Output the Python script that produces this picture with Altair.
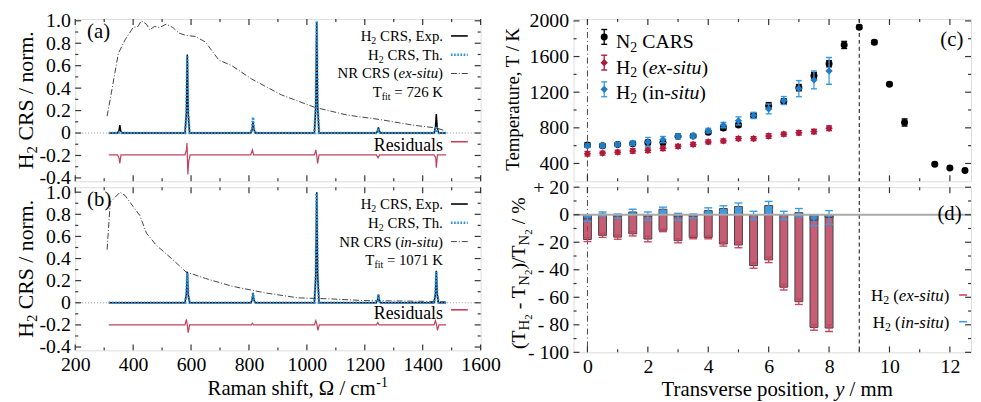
import altair as alt
import pandas as pd

FONT = "Liberation Serif"

# ---------------- panel (a): ex-situ NR, T_fit = 726 K ----------------
shift_a = [316, 346, 351, 354, 357, 362, 579, 584, 587, 590, 595, 806, 811, 814, 817, 822,
           1026, 1031, 1034, 1037, 1042, 1239, 1244, 1247, 1250, 1255, 1439, 1444, 1447, 1450, 1455, 1481]
exp_a = [0, 0, 0.02, 0.07, 0.02, 0, 0, 0.18, 0.70, 0.18, 0, 0, 0.03, 0.10, 0.03, 0,
         0, 0.25, 0.99, 0.25, 0, 0, 0.015, 0.05, 0.015, 0, 0, 0.05, 0.17, 0.05, 0, 0]
th_a = [0, 0, 0.003, 0.01, 0.003, 0, 0, 0.18, 0.69, 0.18, 0, 0, 0.04, 0.14, 0.04, 0,
        0, 0.26, 1.0, 0.26, 0, 0, 0.012, 0.04, 0.012, 0, 0, 0.02, 0.06, 0.02, 0, 0]
res_shift_a = [316, 346, 351, 354, 358, 579, 584, 586, 589, 592, 597, 806, 812, 816, 822,
               1026, 1031, 1034, 1037, 1042, 1240, 1246, 1251, 1439, 1445, 1447, 1451, 1481]
res_a = [-0.195, -0.195, -0.22, -0.27, -0.195, -0.195, -0.15, -0.09, -0.37, -0.25, -0.195,
         -0.195, -0.15, -0.195, -0.195, -0.195, -0.15, -0.2, -0.27, -0.195, -0.195, -0.22,
         -0.195, -0.195, -0.22, -0.31, -0.195, -0.195]
nr_shift_a = [310, 327, 349, 372, 400, 417, 428, 446, 457, 474, 491, 514, 537, 559, 582,
              616, 650, 696, 741, 810, 912, 1026, 1139, 1253, 1367, 1447, 1478]
nr_a = [0.15, 0.39, 0.71, 0.83, 0.94, 0.95, 1.0, 0.97, 0.92, 0.95, 0.94, 0.97, 0.94, 0.89,
        0.87, 0.86, 0.81, 0.65, 0.60, 0.48, 0.34, 0.23, 0.16, 0.12, 0.07, 0.045, 0.02]

# ---------------- panel (b): in-situ NR, T_fit = 1071 K ----------------
shift_b = [316, 579, 584, 587, 590, 595, 806, 811, 814, 817, 822, 1026, 1031, 1034, 1037, 1042,
           1239, 1244, 1247, 1250, 1255, 1439, 1444, 1447, 1450, 1455, 1481]
exp_b = [0, 0, 0.08, 0.28, 0.08, 0, 0, 0.025, 0.09, 0.025, 0, 0, 0.26, 1.0, 0.26, 0,
         0, 0.02, 0.075, 0.02, 0, 0, 0.08, 0.29, 0.08, 0, 0]
th_b = [0, 0, 0.075, 0.27, 0.075, 0, 0, 0.025, 0.085, 0.025, 0, 0, 0.26, 0.99, 0.26, 0,
        0, 0.02, 0.07, 0.02, 0, 0, 0.075, 0.28, 0.075, 0, 0]
res_shift_b = [316, 579, 584, 587, 590, 595, 808, 812, 816, 1026, 1031, 1035, 1038, 1043,
               1240, 1245, 1250, 1439, 1444, 1448, 1451, 1456, 1481]
res_b = [-0.2, -0.2, -0.15, -0.2, -0.27, -0.2, -0.2, -0.185, -0.2, -0.2, -0.16, -0.2, -0.25,
         -0.2, -0.2, -0.18, -0.2, -0.2, -0.16, -0.2, -0.25, -0.2, -0.2]
nr_shift_b = [310, 321, 338, 355, 372, 400, 423, 446, 480, 537, 582, 650, 741, 855, 969,
              1083, 1197, 1367, 1478]
nr_b = [0.48, 0.91, 0.955, 1.0, 0.97, 0.87, 0.79, 0.63, 0.52, 0.39, 0.28, 0.22, 0.15, 0.09,
        0.045, 0.035, 0.02, 0.015, 0.01]

# ---------------- panel (c): temperatures ----------------
pos_n2 = [0, 0.5, 1, 1.5, 2, 2.5, 3, 3.5, 4, 4.5, 5, 5.5, 6, 6.5, 7, 7.5, 8,
          8.5, 9, 9.5, 10, 10.5, 11.5, 12, 12.5]
t_n2 = [606, 599, 614, 621, 635, 635, 704, 708, 751, 798, 831, 939, 1048, 1095, 1251, 1385, 1519,
        1730, 1930, 1760, 1290, 860, 390, 350, 320]
t_n2_err = [25, 20, 20, 20, 25, 25, 25, 20, 20, 25, 20, 30, 35, 30, 35, 35, 35,
            40, 20, 20, 15, 40, 15, 15, 12]
pos_h2 = [0, 0.5, 1, 1.5, 2, 2.5, 3, 3.5, 4, 4.5, 5, 5.5, 6, 6.5, 7, 7.5, 8]
t_ex = [509, 516, 527, 541, 548, 570, 592, 614, 642, 653, 679, 679, 708, 729, 744, 758, 795]
t_ex_err = [25, 22, 22, 25, 25, 25, 22, 22, 22, 22, 22, 22, 25, 22, 25, 25, 25]
t_in = [599, 599, 614, 628, 642, 668, 704, 708, 769, 831, 878, 939, 1012, 1106, 1240, 1338, 1439]
t_in_err = [20, 20, 20, 25, 50, 35, 25, 25, 25, 30, 45, 35, 55, 45, 90, 100, 150]

# ---------------- panel (d): relative deviation ----------------
dev_ex = [-18, -15, -16.3, -13.9, -17.7, -11.3, -18.9, -16.5, -16.5, -21.3, -22, -36.9,
          -32.8, -52.7, -63.2, -81.9, -82.4]
dev_ex_err = [1.5, 1.5, 1.5, 1.5, 2, 1, 1.5, 1, 1, 1.5, 2, 2, 2, 2, 2, 2, 2.5]
dev_in = [-3, 0.5, -1, 2, -1, 4, -1.5, -1, 3, 4.5, 6, -0.5, 6.7, -0.5, 1.5, -4, -2]
dev_in_err = [2, 1.5, 1.5, 2, 3, 1.5, 2.5, 1.5, 2, 2, 2.5, 3, 3, 3, 3, 4, 5]

# ---------------- tick values ----------------
raman_major = [200, 400, 600, 800, 1000, 1200, 1400, 1600]
raman_minor = [300, 500, 700, 900, 1100, 1300, 1500]
crs_major = [-0.4, -0.2, 0, 0.2, 0.4, 0.6, 0.8, 1.0]
crs_minor = [-0.3, -0.1, 0.1, 0.3, 0.5, 0.7, 0.9]
pos_major = [0, 2, 4, 6, 8, 10, 12]
pos_minor = [1, 3, 5, 7, 9, 11]
temp_major = [400, 800, 1200, 1600, 2000]
temp_minor = [600, 1000, 1400, 1800]
dev_major = [-100, -80, -60, -40, -20, 0, 20]
dev_minor = [-90, -70, -50, -30, -10, 10]

ONE = alt.Data(values=[{"k": 0}])

UP = {" ": .25, "(": .333, ")": .333, ",": .25, ".": .25, "/": .278, "-": .333,
      "=": .564, "%": .833, "Ω": .768, "A": .722, "C": .667, "E": .611, "H": .722,
      "K": .722, "N": .722, "R": .667, "S": .556, "T": .611, "a": .444, "c": .444,
      "d": .5, "e": .444, "f": .333, "h": .5, "i": .278, "l": .278, "m": .778,
      "n": .5, "o": .5, "p": .5, "r": .333, "s": .389, "t": .278, "u": .5,
      "v": .5, "x": .5, "y": .5}
IT = dict(UP, x=.444, y=.444)


def twidth(s, size, it):
    tbl = IT if it else UP
    return size * sum(tbl.get(c, .5) for c in s)


def rich(segs, x, y, align="left", angle=0, color="black"):
    total = sum(twidth(t, s, it) for t, s, it, sh in segs)
    pos = {"left": 0.0, "center": -total / 2, "right": -total}[align]
    out = []
    for t, s, it, sh in segs:
        lead = len(t) - len(t.lstrip(" "))
        shown = t.strip(" ")
        start = pos + lead * 0.25 * s
        if angle == 0:
            px, py = x + start, y + sh
        else:
            px, py = x + sh, y - start
        kw = dict(text=shown, font=FONT, fontSize=s, align="left", baseline="alphabetic",
                  color=color, fontStyle="italic" if it else "normal")
        if angle:
            kw["angle"] = angle
        if shown:
            out.append(alt.Chart(ONE).mark_text(**kw).encode(x=alt.value(px), y=alt.value(py)))
        pos += twidth(t, s, it)
    return out


def seg(x0, x1, y, color, width=1.5, dash=None):
    kw = dict(color=color, strokeWidth=width)
    if dash:
        kw["strokeDash"] = dash
    return alt.Chart(ONE).mark_rule(**kw).encode(x=alt.value(x0), x2=alt.value(x1), y=alt.value(y))


def inward(values, ch, scale, ax, W, H, length):
    df = pd.DataFrame({"v": values})
    base = alt.Chart(df).mark_rule(color="#333", strokeWidth=1.2)
    if ch == "x":
        e = lambda a, b: base.encode(x=alt.X("v:Q", scale=scale, axis=ax), y=alt.value(a), y2=alt.value(b))
        return [e(H, H - length), e(0, length)]
    e = lambda a, b: base.encode(y=alt.Y("v:Q", scale=scale, axis=ax), x=alt.value(a), x2=alt.value(b))
    return [e(0, length), e(W, W - length)]


AXCOMMON = dict(title=None, ticks=False, domain=False, grid=False, labelFlush=False,
                labelFont=FONT, labelFontSize=20, labelColor="black")

xs_raman = alt.Scale(domain=[200, 1600], nice=False, zero=False, padding=0)
ys_crs_a = alt.Scale(domain=[-0.43, 1.015], nice=False, zero=False, padding=0)
ys_crs_b = alt.Scale(domain=[-0.43, 1.045], nice=False, zero=False, padding=0)
xs_pos = alt.Scale(domain=[-0.46, 12.7], nice=False, zero=False, padding=0)
ys_T = alt.Scale(domain=[200, 2020], nice=False, zero=False, padding=0)
ys_dev = alt.Scale(domain=[-100, 20], nice=False, zero=False, padding=0)

RED = "#b0183c"
BLUE = "#1f7cc8"
BLUE_L = "#3a9be2"
TH_BLUE = "#2a8fdc"
RES_RED = "#c4405c"


def spectrum_panel(letter, shift, exp, th, res_shift, res, nr_shift, nr, situ, tfit, ys_crs, W, H, xlabels):
    if xlabels:
        xaxis = alt.Axis(values=raman_major, format="d", labelPadding=4, **AXCOMMON)
    else:
        xaxis = alt.Axis(values=raman_major, labels=False, **AXCOMMON)
    yaxis = alt.Axis(values=crs_major, labelPadding=5,
                     labelExpr="datum.value == 0 ? '0' : (datum.value < 0 ? '-' : '') + format(abs(datum.value), '.1f')",
                     **AXCOMMON)
    X = lambda f: alt.X(f, type="quantitative", scale=xs_raman, axis=xaxis)
    Y = lambda f: alt.Y(f, type="quantitative", scale=ys_crs, axis=yaxis)
    d_line = pd.DataFrame({"x": shift, "exp": exp, "th": th})
    d_res = pd.DataFrame({"x": res_shift, "r": res})
    d_nr = pd.DataFrame({"x": nr_shift, "nr": nr})
    L = []
    L.append(alt.Chart(d_nr).mark_line(color="#444", strokeWidth=1, strokeDash=[6, 2, 1, 2])
             .encode(x=X("x"), y=Y("nr")))
    L.append(alt.Chart(ONE).mark_rule(color="#9a9a9a", strokeWidth=1, strokeDash=[1, 2])
             .encode(y=alt.YDatum(0, type="quantitative", scale=ys_crs, axis=yaxis)))
    L.append(alt.Chart(d_line).mark_line(color="black", strokeWidth=1.5).encode(x=X("x"), y=Y("exp")))
    L.append(alt.Chart(d_line).mark_line(color=TH_BLUE, strokeWidth=2.6, strokeDash=[1.6, 1.6])
             .encode(x=X("x"), y=Y("th")))
    L.append(alt.Chart(d_res).mark_line(color=RES_RED, strokeWidth=1.2).encode(x=X("x"), y=Y("r")))
    L += inward(raman_major, "x", xs_raman, xaxis, W, H, 6) + inward(raman_minor, "x", xs_raman, xaxis, W, H, 3)
    L += inward(crs_major, "y", ys_crs, yaxis, W, H, 6) + inward(crs_minor, "y", ys_crs, yaxis, W, H, 3)
    # legend
    rx = 372
    L += rich([("H", 15, False, 0), ("2", 10, False, 3), (" CRS, Exp.", 15, False, 0)], rx, 22, "right")
    L += rich([("H", 15, False, 0), ("2", 10, False, 3), (" CRS, Th.", 15, False, 0)], rx, 41, "right")
    L += rich([("NR CRS (", 15, False, 0), (situ, 15, True, 0), (")", 15, False, 0)], rx, 60, "right")
    L += rich([("T", 15, False, 0), ("fit", 10, False, 3), (" = %s K" % tfit, 15, False, 0)], rx, 79, "right")
    L += rich([("Residuals", 18, False, 0)], rx, 133, "right")
    L.append(seg(380, 397, 17, "black", 1.6))
    L.append(seg(380, 397, 36, TH_BLUE, 2.6, [1.6, 1.6]))
    L.append(seg(380, 397, 55, "#444", 1, [6, 2, 1, 2]))
    L.append(seg(380, 397, 124, RES_RED, 1.6))
    L += rich([("(%s)" % letter, 21, False, 0)], 12, 19)
    L += rich([("H", 22, False, 0), ("2", 15, False, 4), (" CRS / norm.", 22, False, 0)], -43, H / 2,
              "center", 270)
    if xlabels:
        L += rich([("Raman shift, Ω / cm", 21, False, 0), ("-1", 14, False, -8)], 225, H + 45, "center")
    return alt.layer(*L).properties(width=W, height=H)


def errpts(pos, val, err, xs, ys, xax, yax, color, ecolor, shape, size, cap):
    df = pd.DataFrame({"p": pos, "v": val, "err": err})
    df["lo"] = df["v"] - df["err"]
    df["hi"] = df["v"] + df["err"]
    X = alt.X("p:Q", scale=xs, axis=xax)
    out = [
        alt.Chart(df).mark_rule(color=ecolor, strokeWidth=1.3)
        .encode(x=X, y=alt.Y("lo:Q", scale=ys, axis=yax), y2="hi:Q"),
        alt.Chart(df).mark_tick(orient="horizontal", size=cap, thickness=1.4, color=ecolor, opacity=1)
        .encode(x=X, y=alt.Y("lo:Q", scale=ys, axis=yax)),
        alt.Chart(df).mark_tick(orient="horizontal", size=cap, thickness=1.4, color=ecolor, opacity=1)
        .encode(x=X, y=alt.Y("hi:Q", scale=ys, axis=yax)),
    ]
    if shape:
        out.append(alt.Chart(df).mark_point(shape=shape, filled=True, size=size, color=color, opacity=1)
                   .encode(x=X, y=alt.Y("v:Q", scale=ys, axis=yax)))
    return out


def legend_sym(x, y, color, ecolor, shape, size):
    return [
        alt.Chart(ONE).mark_rule(color=ecolor, strokeWidth=1.3).encode(x=alt.value(x), y=alt.value(y - 7.5), y2=alt.value(y + 7.5)),
        alt.Chart(ONE).mark_rule(color=ecolor, strokeWidth=1.4).encode(x=alt.value(x - 3), x2=alt.value(x + 3), y=alt.value(y - 7.5)),
        alt.Chart(ONE).mark_rule(color=ecolor, strokeWidth=1.4).encode(x=alt.value(x - 3), x2=alt.value(x + 3), y=alt.value(y + 7.5)),
        alt.Chart(ONE).mark_point(shape=shape, filled=True, size=size, color=color, opacity=1).encode(x=alt.value(x), y=alt.value(y)),
    ]


def refs(xax):
    return [
        alt.Chart(ONE).mark_rule(color="#444", strokeWidth=1, strokeDash=[6, 3, 1, 3])
        .encode(x=alt.XDatum(0, type="quantitative", scale=xs_pos, axis=xax)),
        alt.Chart(ONE).mark_rule(color="#222", strokeWidth=1.1, strokeDash=[4, 3])
        .encode(x=alt.XDatum(9, type="quantitative", scale=xs_pos, axis=xax)),
    ]


W_R = 402

# ---------- panel (c) ----------
H_C = 164
ax_c_x = alt.Axis(values=pos_major, labels=False, **AXCOMMON)
ax_c_y = alt.Axis(values=temp_major, format="d", labelPadding=5, **AXCOMMON)
c_layers = []
c_layers += refs(ax_c_x)
c_layers += errpts(pos_n2, t_n2, t_n2_err, xs_pos, ys_T, ax_c_x, ax_c_y, "black", "black", "circle", 50, 6)
c_layers += errpts(pos_h2, t_ex, t_ex_err, xs_pos, ys_T, ax_c_x, ax_c_y, RED, RED, "diamond", 55, 6)
c_layers += errpts(pos_h2, t_in, t_in_err, xs_pos, ys_T, ax_c_x, ax_c_y, BLUE, BLUE_L, "diamond", 55, 6)
c_layers += inward(pos_major, "x", xs_pos, ax_c_x, W_R, H_C, 6) + inward(pos_minor, "x", xs_pos, ax_c_x, W_R, H_C, 3)
c_layers += inward(temp_major, "y", ys_T, ax_c_y, W_R, H_C, 6) + inward(temp_minor, "y", ys_T, ax_c_y, W_R, H_C, 3)
c_layers += legend_sym(31, 18, "black", "black", "circle", 50)
c_layers += legend_sym(31, 44, RED, RED, "diamond", 55)
c_layers += legend_sym(31, 71, BLUE, BLUE_L, "diamond", 55)
c_layers += rich([("N", 20, False, 0), ("2", 14, False, 4), (" CARS", 20, False, 0)], 43, 29)
c_layers += rich([("H", 20, False, 0), ("2", 14, False, 4), (" (", 20, False, 0), ("ex-situ", 20, True, 0),
                  (")", 20, False, 0)], 43, 55)
c_layers += rich([("H", 20, False, 0), ("2", 14, False, 4), (" (in-", 20, False, 0), ("situ", 20, True, 0),
                  (")", 20, False, 0)], 43, 81)
c_layers += rich([("(c)", 21, False, 0)], 371, 27)
c_layers += rich([("Temperature, T / K", 19, False, 0)], -55, 80, "center", 270)
panel_c = alt.layer(*c_layers).properties(width=W_R, height=H_C)

# ---------- panel (d) ----------
H_D = 167
ax_d_x = alt.Axis(values=pos_major, format="d", labelPadding=4, **AXCOMMON)
ax_d_y = alt.Axis(values=dev_major, labelPadding=5,
                  labelExpr="datum.value > 0 ? '+ ' + datum.value : (datum.value < 0 ? '- ' + abs(datum.value) : '0')",
                  **AXCOMMON)
d_ex = pd.DataFrame({"p": pos_h2, "v": dev_ex})
d_in = pd.DataFrame({"p": pos_h2, "v": dev_in})
d_layers = []
d_layers += refs(ax_d_x)
d_layers.append(alt.Chart(d_ex).mark_bar(size=8, fill="#b83552", fillOpacity=0.8, stroke="#444", strokeWidth=1)
                .encode(x=alt.X("p:Q", scale=xs_pos, axis=ax_d_x), y=alt.Y("v:Q", scale=ys_dev, axis=ax_d_y),
                        y2=alt.datum(0)))
d_layers.append(alt.Chart(d_in).mark_bar(size=8, fill="#2a88d8", fillOpacity=0.85, stroke="#444", strokeWidth=1)
                .encode(x=alt.X("p:Q", scale=xs_pos, axis=ax_d_x), y=alt.Y("v:Q", scale=ys_dev, axis=ax_d_y),
                        y2=alt.datum(0)))
d_layers += errpts(pos_h2, dev_ex, dev_ex_err, xs_pos, ys_dev, ax_d_x, ax_d_y, None, "#c8455f", None, 0, 8)
d_layers += errpts(pos_h2, dev_in, dev_in_err, xs_pos, ys_dev, ax_d_x, ax_d_y, None, BLUE_L, None, 0, 8)
d_layers.append(alt.Chart(ONE).mark_rule(color="#aaaaaa", strokeWidth=2)
                .encode(y=alt.YDatum(0, type="quantitative", scale=ys_dev, axis=ax_d_y)))
d_layers += inward(pos_major, "x", xs_pos, ax_d_x, W_R, H_D, 6) + inward(pos_minor, "x", xs_pos, ax_d_x, W_R, H_D, 3)
d_layers += inward(dev_major, "y", ys_dev, ax_d_y, W_R, H_D, 6) + inward(dev_minor, "y", ys_dev, ax_d_y, W_R, H_D, 3)
d_layers += rich([("H", 17, False, 0), ("2", 12, False, 3), (" (", 17, False, 0), ("ex-situ", 17, True, 0),
                  (")", 17, False, 0)], 380, 115, "right")
d_layers += rich([("H", 17, False, 0), ("2", 12, False, 3), (" (", 17, False, 0), ("in-situ", 17, True, 0),
                  (")", 17, False, 0)], 380, 142, "right")
d_layers.append(seg(390, 398, 109, "#c8455f", 1.6))
d_layers.append(seg(390, 398, 136, BLUE_L, 1.6))
d_layers += rich([("(d)", 21, False, 0)], 368, 33)
d_layers += rich([("(T", 20, False, 0), ("H", 15, False, 4), ("2", 11, False, 7), (" - T", 20, False, 0),
                  ("N", 15, False, 4), ("2", 11, False, 7), (")/T", 20, False, 0), ("N", 15, False, 4),
                  ("2", 11, False, 7), (" / %", 20, False, 0)], -49, 87, "center", 270)
d_layers += rich([("Transverse position, ", 21, False, 0), ("y", 21, True, 0), (" / mm", 21, False, 0)],
                 206, H_D + 44, "center")
panel_d = alt.layer(*d_layers).properties(width=W_R, height=H_D)

panel_a = spectrum_panel("a", shift_a, exp_a, th_a, res_shift_a, res_a, nr_shift_a, nr_a, "ex-situ", "726",
                         ys_crs_a, 410, 164, False)
panel_b = spectrum_panel("b", shift_b, exp_b, th_b, res_shift_b, res_b, nr_shift_b, nr_b, "in-situ", "1071",
                         ys_crs_b, 410, 165, True)

chart = alt.concat(panel_a, panel_c, panel_b, panel_d, columns=2, bounds="flush", align="each",
                   spacing={"row": 6, "column": 94}).resolve_scale(
    x="independent", y="independent").configure_view(
    stroke="#333", strokeWidth=1.5).configure_axis(
    labelFont=FONT, labelFontSize=20, labelColor="black").configure(
    style={"guide-label": {"font": FONT, "fontSize": 20}}).properties(
    padding={"left": 6, "top": 0, "right": 0, "bottom": 0})

chart.save("out.html", embed_options={"renderer": "svg", "actions": False})
